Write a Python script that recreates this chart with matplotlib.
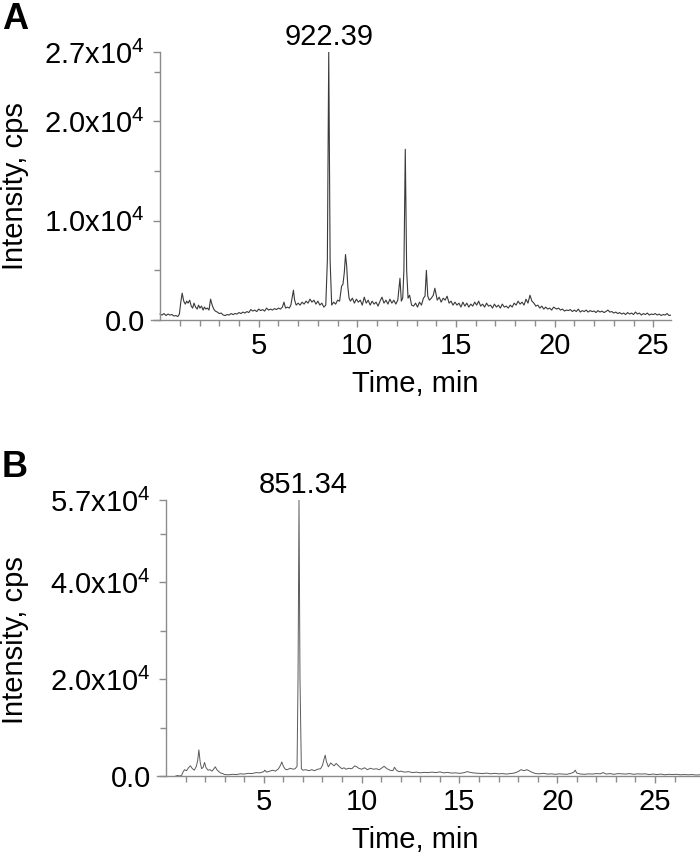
import matplotlib
matplotlib.use('Agg')
import matplotlib.pyplot as plt
from matplotlib.ticker import FixedLocator

plt.rcParams['font.family'] = ['Liberation Sans', 'DejaVu Sans']
plt.rcParams['mathtext.default'] = 'regular'

# ---- panel A: TIC, peak 922.39 ----
time_a = [0.0, 0.1, 0.2, 0.3, 0.4, 0.5, 0.6, 0.7, 0.8, 0.9, 0.98, 1.05, 1.12, 1.2, 1.28, 1.35,
          1.42, 1.5, 1.58, 1.65, 1.72, 1.8, 1.88, 1.95, 2.02, 2.1, 2.18, 2.25, 2.32, 2.4, 2.48,
          2.56, 2.64, 2.72, 2.8, 2.9, 3.0, 3.1, 3.2, 3.3, 3.4, 3.5, 3.6, 3.7, 3.8, 3.9, 4.0,
          4.1, 4.2, 4.3, 4.4, 4.5, 4.6, 4.7, 4.8, 4.9, 5.0, 5.1, 5.2, 5.3, 5.4, 5.5, 5.6, 5.7,
          5.8, 5.9, 6.0, 6.1, 6.2, 6.28, 6.36, 6.45, 6.55, 6.63, 6.7, 6.76, 6.82, 6.9, 7.0,
          7.1, 7.2, 7.3, 7.4, 7.5, 7.6, 7.7, 7.8, 7.9, 8.0, 8.1, 8.2, 8.3, 8.4, 8.48, 8.55,
          8.62, 8.7, 8.8, 8.9, 9.0, 9.1, 9.2, 9.27, 9.34, 9.4, 9.46, 9.52, 9.58, 9.65, 9.75,
          9.85, 9.95, 10.05, 10.15, 10.25, 10.35, 10.45, 10.55, 10.65, 10.75, 10.85, 10.95,
          11.05, 11.15, 11.25, 11.35, 11.45, 11.55, 11.65, 11.75, 11.85, 11.95, 12.05, 12.16,
          12.23, 12.3, 12.36, 12.43, 12.5, 12.57, 12.65, 12.75, 12.85, 12.95, 13.05, 13.15,
          13.25, 13.35, 13.43, 13.5, 13.57, 13.65, 13.75, 13.85, 13.93, 14.05, 14.15, 14.25,
          14.35, 14.45, 14.55, 14.65, 14.75, 14.85, 14.95, 15.05, 15.15, 15.25, 15.35, 15.45,
          15.55, 15.65, 15.75, 15.85, 15.95, 16.05, 16.15, 16.25, 16.35, 16.45, 16.55, 16.65,
          16.75, 16.85, 16.95, 17.05, 17.15, 17.25, 17.35, 17.45, 17.55, 17.65, 17.75, 17.85,
          17.95, 18.05, 18.15, 18.25, 18.35, 18.45, 18.55, 18.65, 18.75, 18.85, 18.95, 19.05,
          19.15, 19.25, 19.35, 19.45, 19.55, 19.65, 19.75, 19.85, 19.95, 20.1, 20.2, 20.3,
          20.4, 20.5, 20.6, 20.7, 20.8, 20.9, 21.0, 21.1, 21.2, 21.3, 21.4, 21.5, 21.6, 21.7,
          21.8, 21.9, 22.0, 22.1, 22.2, 22.3, 22.4, 22.5, 22.6, 22.7, 22.8, 22.9, 23.0, 23.1,
          23.2, 23.3, 23.4, 23.5, 23.6, 23.7, 23.8, 23.9, 24.0, 24.1, 24.2, 24.3, 24.4, 24.5,
          24.6, 24.7, 24.8, 24.9, 25.0, 25.1, 25.2, 25.3, 25.4, 25.5, 25.6, 25.7, 25.8, 25.9,
          26.0, 26.1, 26.2]
int_a = [600, 500, 650, 450, 600, 500, 550, 400, 450, 350, 600, 1800, 2700, 1900, 1600, 1900,
         1700, 2000, 1400, 1200, 1700, 1300, 1100, 1500, 1200, 1400, 1000, 1300, 1100, 1200, 1000,
         2100, 1500, 1100, 900, 800, 650, 700, 500, 450, 550, 500, 650, 550, 650, 600, 750,
         650, 800, 700, 850, 750, 1050, 900, 1000, 850, 1100, 950, 1050, 900, 1200, 1000, 1100, 1000,
         1150, 1050, 1200, 1100, 1300, 1800, 1200, 1300, 1200, 1500, 2300, 3000, 2000, 1500, 1700,
         1500, 1800, 1600, 1900, 1700, 2100, 1800, 2000, 1600, 1900, 1500, 1700, 1300, 1500, 6000, 27000,
         6000, 1500, 1800, 1600, 2000, 1900, 3400, 3600, 4800, 6600, 5400, 3300, 2200, 1900, 2200,
         1700, 2100, 1800, 2000, 1500, 2300, 1700, 2000, 1500, 1900, 1600, 1800,
         1400, 1900, 2300, 1700, 2000, 1600, 2100, 1700, 2000, 1600, 2000, 4200,
         1900, 2200, 5000, 17200, 5000, 2200, 2500, 1500, 1400, 1700, 1300, 1800,
         1500, 2200, 2400, 5000, 2400, 2000, 2200, 2500, 3200, 2000, 2300, 1800,
         2200, 2000, 2400, 1700, 1900, 1500, 1800, 1500, 1700, 1300, 1800, 1400,
         1700, 1300, 1600, 1400, 1800, 1500, 1900, 1400, 1600, 1300, 1700, 1400,
         1500, 1200, 1600, 1300, 1500, 1200, 1600, 1300, 1400, 1200, 1500, 1300,
         1700, 1500, 1900, 1600, 1800, 1500, 2100, 1700, 2500, 1900, 1700, 1400,
         1500, 1200, 1400, 1100, 1300, 1100, 1200, 1000, 1300, 1100, 1200, 1000,
         1100, 900, 1000, 950, 1050, 850, 1000, 850, 1100, 800, 950, 850, 1000, 800,
         950, 850, 900, 750, 950, 800, 900, 750, 850, 1000, 800, 850, 700, 800,
         650, 750, 600, 700, 550, 750, 600, 700, 550, 800, 600, 700, 500, 650,
         550, 700, 500, 600, 550, 650, 500, 600, 450, 550, 500, 650, 450, 500,
         550, 450, 500]

# ---- panel B: TIC, peak 851.34 ----
time_b = [0.5, 0.6, 0.7, 0.8, 0.88, 0.95, 1.05, 1.15, 1.25, 1.35, 1.45, 1.55, 1.62, 1.68, 1.75,
          1.82, 1.9, 1.97, 2.05, 2.15, 2.25, 2.35, 2.45, 2.52, 2.6, 2.7, 2.8, 2.9, 3.0, 3.2,
          3.4, 3.6, 3.8, 4.0, 4.2, 4.4, 4.6, 4.8, 5.0, 5.05, 5.15, 5.3, 5.45, 5.6, 5.75, 5.85,
          5.92, 6.0, 6.1, 6.2, 6.35, 6.5, 6.6, 6.7, 6.75, 6.8, 6.85, 6.92, 7.0, 7.15, 7.3,
          7.45, 7.6, 7.75, 7.9, 8.0, 8.08, 8.14, 8.2, 8.3, 8.42, 8.5, 8.6, 8.7, 8.8, 8.9, 9.0,
          9.1, 9.2, 9.35, 9.5, 9.65, 9.75, 9.85, 10.0, 10.15, 10.3, 10.45, 10.6, 10.75, 10.9,
          11.05, 11.15, 11.3, 11.45, 11.6, 11.68, 11.78, 11.9, 12.0, 12.2, 12.4, 12.6, 12.8,
          13.0, 13.2, 13.4, 13.6, 13.8, 14.0, 14.2, 14.4, 14.6, 14.8, 15.0, 15.2, 15.4, 15.6,
          15.8, 16.0, 16.2, 16.4, 16.6, 16.8, 17.0, 17.2, 17.4, 17.6, 17.8, 18.0, 18.15, 18.3,
          18.45, 18.6, 18.75, 18.9, 19.1, 19.3, 19.5, 19.7, 19.9, 20.1, 20.3, 20.5, 20.7,
          20.85, 20.92, 21.0, 21.2, 21.4, 21.6, 21.8, 22.0, 22.2, 22.35, 22.5, 22.7, 22.9,
          23.1, 23.3, 23.5, 23.7, 23.9, 24.1, 24.3, 24.5, 24.7, 24.9, 25.1, 25.3, 25.5, 25.7,
          25.9, 26.1, 26.3, 26.5, 26.7, 26.9, 27.1, 27.3]
int_b = [0, 100, 0, 150, 900, 1300, 1100, 1700, 2100, 1500, 1200, 2000, 3200, 5400, 2800,
         1500, 1800, 2800, 1700, 1200, 1300, 1000, 1500, 1900, 1300, 900, 600, 500, 300, 250,
         350, 300, 450, 400, 550, 500, 700, 650, 900, 1200, 800, 1000, 1200, 1000, 1500, 2200,
         2900, 2000, 1400, 1300, 1600, 1400, 1500, 2000, 20000, 57000, 20000, 1500, 1200, 1300, 1100,
         1300, 1100, 1400, 1500, 2200, 3500, 4300, 3000, 1900, 2700, 2400, 2100, 2600, 2200, 1800, 1500,
         1700, 1400, 1600, 1500, 2100, 1900, 1600, 1400, 1700, 1300, 1600, 1400, 1500, 1300,
         1700, 2000, 1500, 1200, 1100, 1800, 1200, 900, 1000, 800, 900, 700, 800,
         650, 750, 700, 800, 700, 850, 650, 750, 600, 650, 550, 650, 900, 700,
         600, 550, 500, 600, 450, 550, 450, 500, 400, 500, 600, 900, 1300, 1100,
         1300, 1000, 700, 500, 450, 550, 400, 450, 350, 450, 400, 350, 550,
         800, 1200, 600, 400, 350, 450, 400, 500, 450, 700, 400, 500, 350,
         500, 450, 400, 500, 350, 450, 400, 450, 300, 400, 300, 400, 250, 350,
         300, 350, 250, 300, 250, 300, 200, 250]

ticks_a = [0, 1e4, 2e4, 2.7e4]
labels_a = ['0.0', r'1.0x10$^{4}$', r'2.0x10$^{4}$', r'2.7x10$^{4}$']
minor_a = [5e3, 1.5e4, 2.5e4]
ticks_b = [0, 2e4, 4e4, 5.7e4]
labels_b = ['0.0', r'2.0x10$^{4}$', r'4.0x10$^{4}$', r'5.7x10$^{4}$']
minor_b = [1e4, 3e4, 5e4]

W, H = 700, 858
fig = plt.figure(figsize=(7, 8.58), dpi=100)

axA = fig.add_axes([151 / W, 1 - 320 / H, 520 / W, 268 / H])
axB = fig.add_axes([157 / W, 1 - 776 / H, 543 / W, 276 / H])

gray = '#8c8c8c'
fs = 21

def style(ax, yt, yl, ym, xmax):
    for s in ['top', 'right']:
        ax.spines[s].set_visible(False)
    ax.spines['left'].set_position(('data', 0))
    for s in ['left', 'bottom']:
        ax.spines[s].set_color(gray)
        ax.spines[s].set_linewidth(1.0)
    ax.set_xlim(-0.46, xmax)
    ax.set_xticks([5, 10, 15, 20, 25])
    ax.xaxis.set_minor_locator(FixedLocator(range(1, 27)))
    ax.set_yticks(yt)
    ax.set_yticklabels(yl)
    ax.yaxis.set_minor_locator(FixedLocator(ym))
    ax.tick_params(axis='both', which='major', colors=gray, labelcolor='black',
                   labelsize=fs, length=5, width=1.0, direction='out')
    ax.tick_params(axis='both', which='minor', colors=gray, length=4, width=1.0, direction='out')
    ax.tick_params(axis='y', which='major', pad=6)
    ax.tick_params(axis='x', which='major', pad=4)

axA.plot(time_a, int_a, color='#3a3a3a', lw=0.8)
axA.set_ylim(0, 2.7e4)
style(axA, ticks_a, labels_a, minor_a, 25.9)
axA.annotate('922.39', xy=(8.55, 2.7e4), xytext=(0, 5), textcoords='offset points',
             ha='center', va='baseline', fontsize=fs, annotation_clip=False)

axB.plot(time_b, int_b, color='#5a5a5a', lw=0.7)
axB.set_ylim(0, 5.7e4)
style(axB, ticks_b, labels_b, minor_b, 27.3)
axB.annotate('851.34', xy=(6.8, 5.7e4), xytext=(3, 5), textcoords='offset points',
             ha='center', va='baseline', fontsize=fs, annotation_clip=False)

# axis titles placed in figure pixels
fig.text(415 / W, 1 - 384 / H, 'Time, min', ha='center', va='center', fontsize=fs)
fig.text(415 / W, 1 - 840 / H, 'Time, min', ha='center', va='center', fontsize=fs)
fig.text(15 / W, 1 - 186 / H, 'Intensity, cps', rotation=90, ha='center', va='center', fontsize=fs)
fig.text(15 / W, 1 - 640 / H, 'Intensity, cps', rotation=90, ha='center', va='center', fontsize=fs)

fig.text(2 / W, 1 - 2 / H, 'A', ha='left', va='top', fontsize=26, fontweight='bold')
fig.text(2 / W, 1 - 450 / H, 'B', ha='left', va='top', fontsize=26, fontweight='bold')

fig.savefig('out.png', dpi=100)
